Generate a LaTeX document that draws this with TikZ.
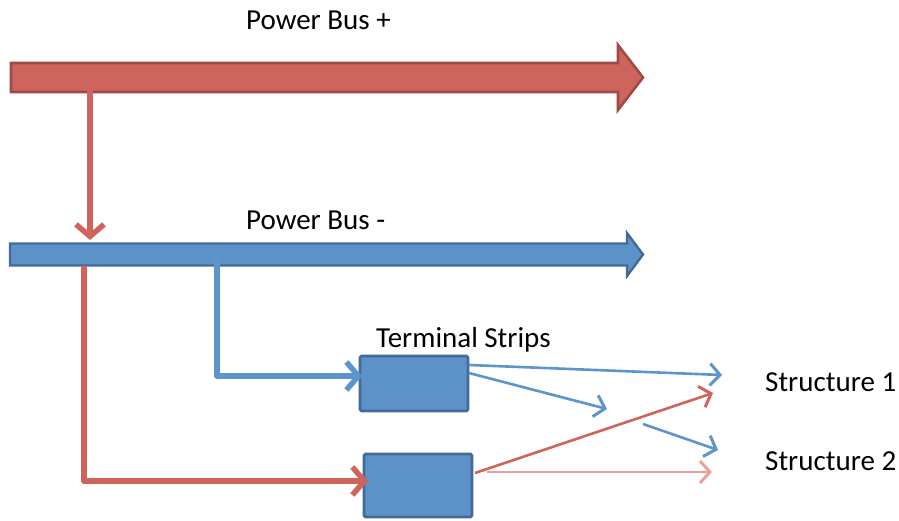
\documentclass[tikz,border=0pt]{standalone}
\usepackage{fontspec}
\setmainfont{Carlito}
\usetikzlibrary{arrows.meta}
\definecolor{rfill}{RGB}{206,101,93}
\definecolor{rdraw}{RGB}{160,74,70}
\definecolor{bfill}{RGB}{92,146,200}
\definecolor{bdraw}{RGB}{66,108,150}
\definecolor{rline}{RGB}{208,100,92}
\definecolor{bline}{RGB}{92,148,204}
\definecolor{pline}{RGB}{236,160,156}
\tikzset{
  lbl/.style={font=\fontsize{29}{32}\selectfont, anchor=west, inner sep=0pt},
  tbox/.style={draw=bdraw, fill=bfill, line width=2.8pt, rounded corners=1.5pt, inner sep=0pt},
  thick conn/.style={line width=5.5pt, -{Straight Barb[length=12pt,width=28pt,line width=5.5pt]}},
  thin conn/.style={line width=2.6pt, -{Straight Barb[length=10pt,width=22pt,line width=3pt]}},
}
\begin{document}
\begin{tikzpicture}[x=1pt,y=-1pt]
\useasboundingbox (0,0) rectangle (899,520);
% buses
\draw[fill=rfill, draw=rdraw, line width=2.6pt, line join=miter]
  (11,63) -- (618,63) -- (618,45) -- (643,77.5) -- (618,110) -- (618,92) -- (11,92) -- cycle;
\draw[fill=bfill, draw=bdraw, line width=2.4pt, line join=miter]
  (10,243.5) -- (627,243.5) -- (627,233) -- (643,254.5) -- (627,276) -- (627,265.5) -- (10,265.5) -- cycle;
% labels
\node[lbl] (lp) at (246,20) {Power Bus +};
\node[lbl] (lm) at (246,220) {Power Bus -};
\node[lbl] (lt) at (376,340) {Terminal Strips};
\node[lbl] (s1) at (765,382) {Structure 1};
\node[lbl] (s2) at (765,461) {Structure 2};
% terminal strips
\node[tbox, minimum width=108pt, minimum height=55pt] (ts1) at (414,383.5) {};
\node[tbox, minimum width=108pt, minimum height=63pt] (ts2) at (418,485.5) {};
% coordinates
\coordinate (pdrop) at (90,88);
\coordinate (pin) at (90,240);
\coordinate (rstart) at (84,266);
\coordinate (rcorner) at (84,481);
\coordinate (rend) at (368,481);
\coordinate (bstart) at (217,254);
\coordinate (bcorner) at (217,376);
\coordinate (bend) at (362,376);
\coordinate (t1a) at (469,365);
\coordinate (t1b) at (469,373);
\coordinate (s1in) at (722,375);
\coordinate (mid) at (607,409);
\coordinate (m2a) at (643,424);
\coordinate (s2in) at (718,450);
\coordinate (t2a) at (475,473);
\coordinate (s1r) at (713,393);
\coordinate (t2b) at (487,472);
\coordinate (s2r) at (712,472);
% connectors
\draw[thick conn, draw=rline] (pdrop) -- (pin);
\draw[thick conn, draw=rline, line join=round] (rstart) -- (rcorner) -- (rend);
\draw[thick conn, draw=bline, line join=round] (bstart) -- (bcorner) -- (bend);
\draw[thin conn, draw=bline] (t1a) -- (s1in);
\draw[thin conn, draw=bline] (t1b) -- (mid);
\draw[thin conn, draw=bline] (m2a) -- (s2in);
\draw[thin conn, draw=rline] (t2a) -- (s1r);
\draw[thin conn, draw=pline] (t2b) -- (s2r);
\end{tikzpicture}
\end{document}
